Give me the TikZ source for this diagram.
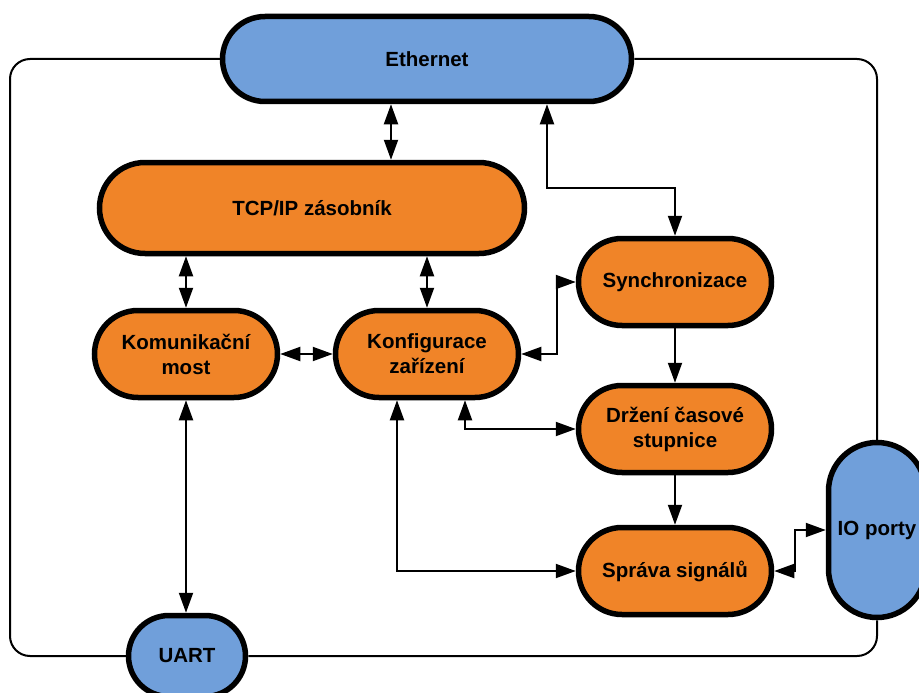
\documentclass[tikz,border=0pt]{standalone}
\usepackage{fontspec}
\setmainfont{Liberation Sans}
\usetikzlibrary{arrows.meta}
\definecolor{netblue}{RGB}{112,159,218}
\definecolor{blkorange}{RGB}{240,132,40}

\begin{document}
\begin{tikzpicture}[x=1pt, y=-1pt,
    main/.style={draw, fill=blkorange, line width=5.5pt, rounded corners=43.5pt, minimum width=183pt, minimum height=87pt, align=center, font=\fontsize{20.5}{25}\selectfont\bfseries},
    port/.style={main, fill=netblue},
    n/.style={{Triangle[length=20pt, width=14pt]}-{Triangle[length=20pt, width=14pt]}, line width=2pt},
    s/.style={-{Triangle[length=20pt, width=14pt]}, line width=2pt},
    ring/.style={line width=2pt, rounded corners=20pt}]
        \useasboundingbox (0,0) rectangle (919,693);
        % nodes
        \node[port, minimum width=409pt, minimum height=85pt, rounded corners=42.5pt] (eth) at (427,59) {Ethernet};
        \node[main, minimum width=425pt, minimum height=91pt, rounded corners=45.5pt] (tcp) at (312,208) {TCP/IP zásobník};
        \node[main] (kom) at (186,354) {Komunikační\\most};
        \node[main] (konf) at (427,354) {Konfigurace\\zařízení};
        \node[main, minimum width=193pt] (sync) at (675,282) {Synchronizace};
        \node[main, minimum width=193pt] (drz) at (675,429) {Držení časové\\stupnice};
        \node[main, minimum width=193pt] (spr) at (675,571) {Správa signálů};
        \node[port, minimum width=97pt, minimum height=175pt, rounded corners=48.5pt] (io) at (877,530) {IO porty};
        \node[port, minimum width=117pt, minimum height=81pt, rounded corners=40.5pt] (uart) at (187,656) {UART};
        \coordinate (l1) at (391,0);
        \coordinate (bend1) at (547,188);
        % ring
        \draw[ring] (eth.west) -| (10,656) -- (uart.west);
        \draw[ring] (uart.east) -| (io.south);
        \draw[ring] (io.north) |- (eth.east);
        % edges
        \draw[n] (eth.south -| l1) -- (tcp.north -| l1);
        \draw[n] (eth.south -| bend1) -- (bend1) -| (sync.north);
        \draw[n] (tcp.south -| kom.north) -- (kom.north);
        \draw[n] (tcp.south -| konf.north) -- (konf.north);
        \draw[n] (kom.east) -- (konf.west);
        \draw[n] (konf.east) -- ++(36,0) |- (sync.west);
        \draw[s] (sync.south) -- (drz.north);
        \draw[n] ([xshift=38pt]konf.south) |- (drz.west);
        \draw[s] (drz.south) -- (spr.north);
        \draw[n] ([xshift=-30pt]konf.south) |- (spr.west);
        \draw[n] (spr.east) -- ++(21,0) |- (io.west);
        \draw[n] (kom.south) -- (kom.south |- uart.north);
    \end{tikzpicture}
\end{document}
